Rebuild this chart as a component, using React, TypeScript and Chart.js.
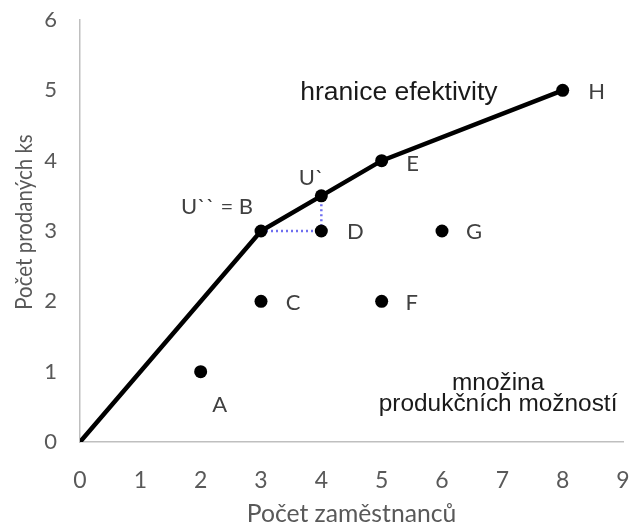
import React, { useEffect, useRef } from "react";
import { Chart, registerables } from "chart.js";

Chart.register(...registerables);

// Efficiency frontier (hranice efektivity)
const frontierX = [0, 3, 4, 5, 8];
const frontierY = [0, 3, 3.5, 4, 5];
const frontierRadius = [0, 6.5, 6.5, 6.5, 6.5];

// Dotted helper lines B -> D -> U`
const helperX = [3, 4, 4];
const helperY = [3, 3, 3.5];

// Inner points
const pointNames = ["A", "C", "D", "F", "G"];
const pointX = [2, 3, 4, 5, 6];
const pointY = [1, 2, 3, 2, 3];

// Point labels
const labelTexts = ["A", "C", "D", "F", "G", "E", "H", "U`", "U`` = B"];
const labelX = [2, 3, 4, 5, 6, 5, 8, 4, 3];
const labelY = [1, 2, 3, 2, 3, 4, 5, 3.5, 3];
const labelDx = [19, 32, 34, 30, 32, 31, 34, -10, -44];
const labelDy = [33, 2, 1, 2, 1, 3, 2, -18, -24];

// Free annotations
const noteTexts = ["hranice efektivity", "množina", "produkčních možností"];
const noteX = [3.65, 6.93, 6.93];
const noteY = [4.96, 0.84, 0.53];
const noteSize = [26.5, 24.4, 24.4];
const noteAlign: CanvasTextAlign[] = ["left", "center", "center"];

// Axis titles
const xTitle = "Počet zaměstnanců";
const yTitle = "Počet prodaných ks";

const xTicks = [0, 1, 2, 3, 4, 5, 6, 7, 8, 9];
const yTicks = [0, 1, 2, 3, 4, 5, 6];

const labelFont = "Lato, 'DejaVu Sans', sans-serif";

const textPlugin = {
  id: "textLabels",
  afterDatasetsDraw(chart: any) {
    const { ctx, scales, chartArea } = chart;
    const xs = scales.x;
    const ys = scales.y;
    ctx.save();
    ctx.textBaseline = "middle";
    ctx.fillStyle = "#404040";
    ctx.font = `22px ${labelFont}`;
    ctx.textAlign = "center";
    labelTexts.forEach((t, i) => {
      const px = xs.getPixelForValue(labelX[i]) + labelDx[i];
      const py = ys.getPixelForValue(labelY[i]) + labelDy[i];
      ctx.fillText(t, px, py);
    });
    ctx.fillStyle = "#1a1a1a";
    noteTexts.forEach((t, i) => {
      ctx.font = `${noteSize[i]}px 'Liberation Sans', Arial, sans-serif`;
      ctx.textAlign = noteAlign[i];
      ctx.fillText(t, xs.getPixelForValue(noteX[i]), ys.getPixelForValue(noteY[i]));
    });

    // axis titles
    ctx.fillStyle = "#595959";
    ctx.textAlign = "center";
    ctx.textBaseline = "alphabetic";
    ctx.font = `24.7px ${labelFont}`;
    ctx.fillText(xTitle, (chartArea.left + chartArea.right) / 2, 522);

    ctx.save();
    ctx.translate(32, 222);
    ctx.rotate(-Math.PI / 2);
    ctx.scale(1, 1.15);
    ctx.font = `20.5px ${labelFont}`;
    ctx.fillText(yTitle, 0, 0);
    ctx.restore();

    ctx.restore();
  },
};

export default function App() {
  const ref = useRef<HTMLCanvasElement | null>(null);
  useEffect(() => {
    if (!ref.current) return;
    const chart = new Chart(ref.current, {
      type: "scatter",
      data: {
        datasets: [
          {
            data: helperX.map((x, i) => ({ x, y: helperY[i] })),
            showLine: true,
            borderColor: "#6f6ff0",
            borderWidth: 2.5,
            borderDash: [2, 3],
            pointRadius: 0,
            order: 2,
          },
          {
            data: frontierX.map((x, i) => ({ x, y: frontierY[i] })),
            showLine: true,
            borderColor: "#000000",
            backgroundColor: "#000000",
            borderWidth: 4.5,
            pointRadius: frontierRadius,
            pointBorderWidth: 0,
            order: 1,
          },
          {
            label: "points",
            data: pointX.map((x, i) => ({ x, y: pointY[i], name: pointNames[i] })) as any,
            showLine: false,
            backgroundColor: "#000000",
            borderColor: "#000000",
            pointRadius: 6.5,
            pointBorderWidth: 0,
            order: 0,
          },
        ],
      },
      options: {
        animation: false,
        responsive: true,
        maintainAspectRatio: false,
        layout: { padding: { top: 20, right: 9, left: 0, bottom: 0 } },
        plugins: {
          legend: { display: false },
          tooltip: { enabled: false },
        },
        scales: {
          x: {
            type: "linear",
            min: 0,
            max: 9,
            afterBuildTicks: (s: any) => {
              s.ticks = xTicks.map((v) => ({ value: v }));
            },
            grid: { display: false, drawTicks: false },
            border: { display: true, color: "#bfbfbf", width: 1.5 },
            ticks: {
              color: "#595959",
              font: { family: labelFont, size: 23 },
              padding: 25,
            },
            title: { display: false },
            afterFit: (s: any) => {
              s.height = 84;
              s.paddingLeft = 0;
              s.paddingRight = 0;
            },
          },
          y: {
            type: "linear",
            min: 0,
            max: 6,
            afterBuildTicks: (s: any) => {
              s.ticks = yTicks.map((v) => ({ value: v }));
            },
            grid: { display: false, drawTicks: false },
            border: { display: true, color: "#bfbfbf", width: 1.5 },
            ticks: {
              color: "#595959",
              font: { family: labelFont, size: 22 },
              padding: 23,
            },
            title: { display: false },
            afterFit: (s: any) => {
              s.width = 80;
              s.paddingTop = 0;
              s.paddingBottom = 0;
            },
          },
        },
      },
      plugins: [textPlugin],
    });
    return () => chart.destroy();
  }, []);
  return (
    <div style={{ position: "fixed", left: 0, top: 0, width: 632, height: 526, background: "#fff" }}>
      <canvas ref={ref} />
    </div>
  );
}
